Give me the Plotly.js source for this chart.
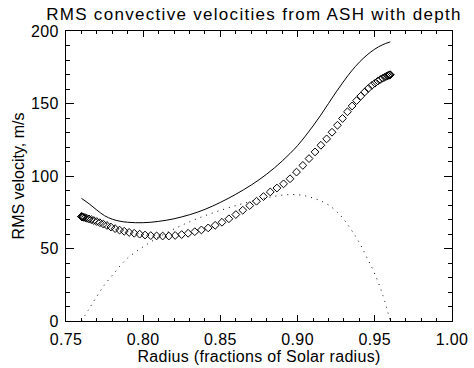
<!DOCTYPE html>
<html>
<head>
<meta charset="utf-8">
<script src="https://cdn.plot.ly/plotly-3.0.1.min.js"></script>
<style>
  html, body { margin: 0; padding: 0; background: #fff; }
  #chart { width: 474px; height: 368px; }
  #chart .gtitle { letter-spacing: 1.3px; }
  #chart .xtitle { letter-spacing: 0.3px; }
  #chart .xtick text, #chart .ytick text { letter-spacing: 0.4px; }
</style>
</head>
<body>
<div id="chart"></div>
<script>
// Solid line: total RMS velocity
const solidRadius = [0.760,0.765,0.770,0.775,0.780,0.785,0.790,0.795,0.800,0.805,0.810,0.815,0.820,0.825,0.830,0.835,0.840,0.845,0.850,0.855,0.860,0.865,0.870,0.875,0.880,0.885,0.890,0.895,0.900,0.905,0.910,0.915,0.920,0.925,0.930,0.935,0.940,0.945,0.950,0.955,0.960];
const solidVel = [84.6,80.8,76.5,72.6,70.2,68.8,68.1,67.8,67.8,68.1,68.7,69.5,70.5,71.8,73.3,75.0,77.0,79.3,81.8,84.5,87.4,90.5,93.8,97.4,101.3,105.6,110.3,115.4,121.0,127.5,134.5,142.0,150.0,158.0,165.5,172.5,178.5,183.5,187.5,190.5,192.5];

// Diamonds: horizontal RMS velocity on the radial grid
const gridRadius = [0.7600,0.7601,0.7604,0.7609,0.7616,0.7625,0.7636,0.7649,0.7664,0.7680,0.7699,0.7719,0.7742,0.7765,0.7791,0.7818,0.7847,0.7877,0.7909,0.7942,0.7977,0.8012,0.8049,0.8087,0.8126,0.8166,0.8207,0.8249,0.8291,0.8334,0.8377,0.8421,0.8466,0.8510,0.8555,0.8600,0.8645,0.8690,0.8734,0.8779,0.8823,0.8866,0.8909,0.8951,0.8993,0.9034,0.9074,0.9113,0.9151,0.9188,0.9223,0.9258,0.9291,0.9323,0.9353,0.9382,0.9409,0.9435,0.9458,0.9481,0.9501,0.9520,0.9536,0.9551,0.9564,0.9575,0.9584,0.9591,0.9596,0.9599,0.9600];
const diamondVel = [72.0,72.0,71.9,71.7,71.5,71.2,70.8,70.4,69.9,69.3,68.6,67.8,66.8,65.9,64.8,63.7,62.7,61.9,61.1,60.5,59.9,59.3,58.9,58.7,58.6,58.6,59.0,59.6,60.5,61.6,62.8,64.2,66.0,68.1,70.5,73.4,76.4,79.6,82.6,85.8,89.0,91.7,94.6,98.1,102.7,107.3,112.0,116.6,121.2,125.6,130.2,135.0,139.7,144.3,148.3,152.0,155.1,158.0,160.4,162.5,164.0,165.5,166.6,167.5,168.2,168.8,169.2,169.5,169.7,169.8,169.8];

// Dotted line: radial RMS velocity
const dotRadius = [0.760,0.765,0.770,0.775,0.780,0.785,0.790,0.795,0.800,0.805,0.810,0.815,0.820,0.825,0.830,0.835,0.840,0.845,0.850,0.855,0.860,0.865,0.870,0.875,0.880,0.885,0.890,0.895,0.900,0.905,0.910,0.915,0.920,0.925,0.930,0.935,0.940,0.945,0.950,0.955,0.960];
const dotVel = [0,8.5,17,25,31.5,38,43.5,47.5,51.2,54.6,57.8,60.8,63.5,66.0,68.4,70.6,72.6,74.5,76.3,78.0,79.6,81.1,82.5,83.8,85.0,86.0,86.8,87.2,87.1,86.3,84.8,82.8,80.0,75.8,70.0,62.5,54.0,43.5,32.5,18.5,0];

const xTickVals = [0.75,0.80,0.85,0.90,0.95,1.00];
const xTickText = ["0.75","0.80","0.85","0.90","0.95","1.00"];
const yTickVals = [0,50,100,150,200];
const yTickText = ["0","50","100","150","200"];

const FONT = "Liberation Sans, Arial, sans-serif";

const traces = [
  { x: solidRadius, y: solidVel, type: "scatter", mode: "lines",
    line: { color: "#000", width: 1, shape: "spline" }, hoverinfo: "skip" },
  { x: dotRadius, y: dotVel, type: "scatter", mode: "lines",
    line: { color: "#000", width: 1, dash: "1px,5px", shape: "spline" }, hoverinfo: "skip" },
  { x: gridRadius, y: diamondVel, type: "scatter", mode: "markers",
    marker: { symbol: "diamond-open", size: 6, color: "#000", line: { color: "#000", width: 1 } },
    hoverinfo: "skip", cliponaxis: false }
];

const axisCommon = {
  showline: true, linecolor: "#000", linewidth: 1, mirror: "ticks",
  ticks: "inside", tickcolor: "#000", tickwidth: 1,
  showgrid: false, zeroline: false,
  tickfont: { family: FONT, size: 16, color: "#000" }
};

const layout = {
  width: 474, height: 368,
  margin: { l: 66, r: 22, t: 31, b: 47, pad: 0 },
  paper_bgcolor: "#fff", plot_bgcolor: "#fff",
  showlegend: false,
  font: { family: FONT, color: "#000" },
  title: {
    text: "RMS convective velocities from ASH with depth",
    font: { family: FONT, size: 17, color: "#000" },
    xref: "container", x: 254/474, xanchor: "center",
    yref: "container", y: 1 - 14/368, yanchor: "middle"
  },
  xaxis: Object.assign({}, axisCommon, {
    range: [0.75, 1.0], tickvals: xTickVals, ticktext: xTickText, ticklen: 6,
    ticklabelstandoff: 4,
    minor: { ticks: "inside", dtick: 0.01, tick0: 0.75, ticklen: 3, tickcolor: "#000", tickwidth: 1, showgrid: false },
    title: { text: "Radius (fractions of Solar radius)", font: { family: FONT, size: 16, color: "#000" }, standoff: 3 }
  }),
  yaxis: Object.assign({}, axisCommon, {
    range: [0, 200], tickvals: yTickVals, ticktext: yTickText, ticklen: 8,
    ticklabelstandoff: 3,
    minor: { ticks: "inside", dtick: 10, tick0: 0, ticklen: 4, tickcolor: "#000", tickwidth: 1, showgrid: false },
    title: { text: "RMS velocity, m/s", font: { family: FONT, size: 16, color: "#000" }, standoff: 3 }
  })
};

Plotly.newPlot("chart", traces, layout, { displayModeBar: false, staticPlot: true });
</script>
</body>
</html>
